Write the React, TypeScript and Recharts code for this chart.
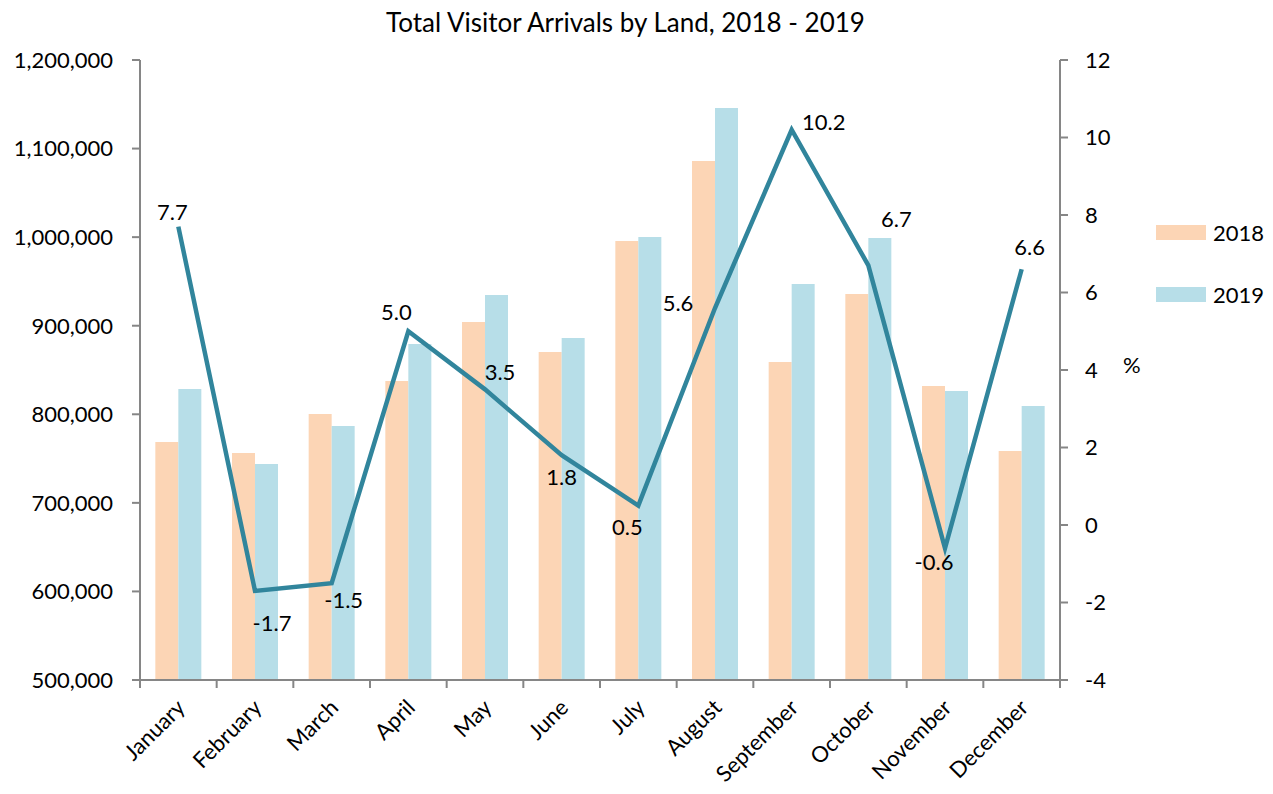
import React from "react";
import {
  ComposedChart,
  Bar,
  Line,
  XAxis,
  YAxis,
  LabelList,
} from "recharts";

const months = [
  "January", "February", "March", "April", "May", "June",
  "July", "August", "September", "October", "November", "December",
];

const arrivals2018 = [
  768700, 756300, 800300, 837600, 904200, 870300,
  995700, 1086000, 859000, 935800, 832000, 758600,
];

const arrivals2019 = [
  828500, 743900, 786800, 879400, 934700, 886100,
  1000200, 1145800, 947100, 999000, 826300, 809400,
];

const growth = [7.7, -1.7, -1.5, 5.0, 3.5, 1.8, 0.5, 5.6, 10.2, 6.7, -0.6, 6.6];

const leftTicks = [500000, 600000, 700000, 800000, 900000, 1000000, 1100000, 1200000];
const rightTicks = [-4, -2, 0, 2, 4, 6, 8, 10, 12];

// where each % label sits relative to its point (like Excel's manual placement)
const labelOffsets: [number, number][] = [
  [-6, -14], [17, 32], [12, 17], [-12, -19], [15, -17], [0, 22],
  [-11, 22], [-37, -5], [32, -7], [28, -46], [-11, 14], [8, -22],
];

const data = months.map((m, i) => ({
  month: m,
  y2018: arrivals2018[i],
  y2019: arrivals2019[i],
  growth: growth[i],
}));

const W = 1257;
const H = 786;
const LEFT_AXIS_W = 132;
const RIGHT_AXIS_W = 80;
const MARGIN = { top: 52, right: 125, bottom: 4, left: 0 };
const PLOT_W = W - MARGIN.left - MARGIN.right - LEFT_AXIS_W - RIGHT_AXIS_W;
const BAND = PLOT_W / months.length;

const FONT = "Lato, 'Open Sans', sans-serif";
const AXIS_COLOR = "#868686";
const C2018 = "#FCD5B5";
const C2019 = "#B7DEE8";
const LINE_COLOR = "#31859C";

const tickStyle = { fill: "#000", fontSize: 22, fontFamily: FONT };

const MonthTick = (props: any) => {
  const { x, y, payload, index } = props;
  const half = BAND / 2;
  return (
    <g>
      <line x1={x - half} y1={y} x2={x - half} y2={y + 8} stroke={AXIS_COLOR} strokeWidth={2} />
      {index === months.length - 1 && (
        <line x1={x + half} y1={y} x2={x + half} y2={y + 8} stroke={AXIS_COLOR} strokeWidth={2} />
      )}
      <text
        transform={`translate(${x + 8},${y + 29}) rotate(-45)`}
        textAnchor="end"
        fill="#000"
        fontSize={22}
        fontFamily={FONT}
      >
        {payload.value}
      </text>
    </g>
  );
};

const GrowthLabel = (props: any) => {
  const { x, y, value, index } = props;
  const [dx, dy] = labelOffsets[index] || [0, -15];
  return (
    <text
      x={x + dx}
      y={y + dy}
      dy="0.35em"
      textAnchor="middle"
      fill="#000"
      fontSize={22}
      fontFamily={FONT}
    >
      {Number(value).toFixed(1)}
    </text>
  );
};

const legendItems = [
  { name: "2018", color: C2018, top: 217 },
  { name: "2019", color: C2019, top: 279 },
];

export default function App() {
  return (
    <div style={{ position: "relative", width: W, height: H, fontFamily: FONT }}>
      <div
        style={{
          position: "absolute",
          left: 0,
          top: 1,
          width: 1235,
          textAlign: "center",
          fontSize: 26,
          lineHeight: "26px",
          color: "#000",
        }}
      >
        Total Visitor Arrivals by Land, 2018 - 2019
      </div>
      <ComposedChart
        width={W}
        height={H}
        data={data}
        margin={MARGIN}
        barCategoryGap="20%"
        barGap={0}
      >
        <XAxis
          dataKey="month"
          interval={0}
          height={110}
          axisLine={{ stroke: AXIS_COLOR, strokeWidth: 2 }}
          tickLine={false}
          tickSize={0}
          tickMargin={0}
          tick={<MonthTick />}
        />
        <YAxis
          yAxisId="left"
          width={LEFT_AXIS_W}
          domain={[500000, 1200000]}
          ticks={leftTicks}
          interval={0}
          allowDataOverflow
          tickFormatter={(v: number) => v.toLocaleString("en-US")}
          axisLine={{ stroke: AXIS_COLOR, strokeWidth: 2 }}
          tickLine={{ stroke: AXIS_COLOR, strokeWidth: 2 }}
          tickSize={8}
          tickMargin={19}
          tick={tickStyle}
        />
        <YAxis
          yAxisId="right"
          orientation="right"
          width={RIGHT_AXIS_W}
          domain={[-4, 12]}
          ticks={rightTicks}
          interval={0}
          axisLine={{ stroke: AXIS_COLOR, strokeWidth: 2 }}
          tickLine={{ stroke: AXIS_COLOR, strokeWidth: 2 }}
          tickSize={8}
          tickMargin={17}
          tick={tickStyle}
          label={{
            value: "%",
            position: "right",
            offset: -17,
            dy: -5,
            fill: "#000",
            fontSize: 22,
            fontFamily: FONT,
          }}
        />
        <Bar yAxisId="left" dataKey="y2018" name="2018" fill={C2018} isAnimationActive={false} />
        <Bar yAxisId="left" dataKey="y2019" name="2019" fill={C2019} isAnimationActive={false} />
        <Line
          yAxisId="right"
          dataKey="growth"
          type="linear"
          stroke={LINE_COLOR}
          strokeWidth={4.5}
          dot={false}
          activeDot={false}
          isAnimationActive={false}
        >
          <LabelList dataKey="growth" content={GrowthLabel} />
        </Line>
      </ComposedChart>
      {legendItems.map((it) => (
        <div
          key={it.name}
          style={{
            position: "absolute",
            left: 1148,
            top: it.top,
            height: 15,
            display: "flex",
            alignItems: "center",
          }}
        >
          <div style={{ width: 50, height: 15, background: it.color }} />
          <span style={{ marginLeft: 7, fontSize: 22, lineHeight: "15px", color: "#000" }}>
            {it.name}
          </span>
        </div>
      ))}
    </div>
  );
}
